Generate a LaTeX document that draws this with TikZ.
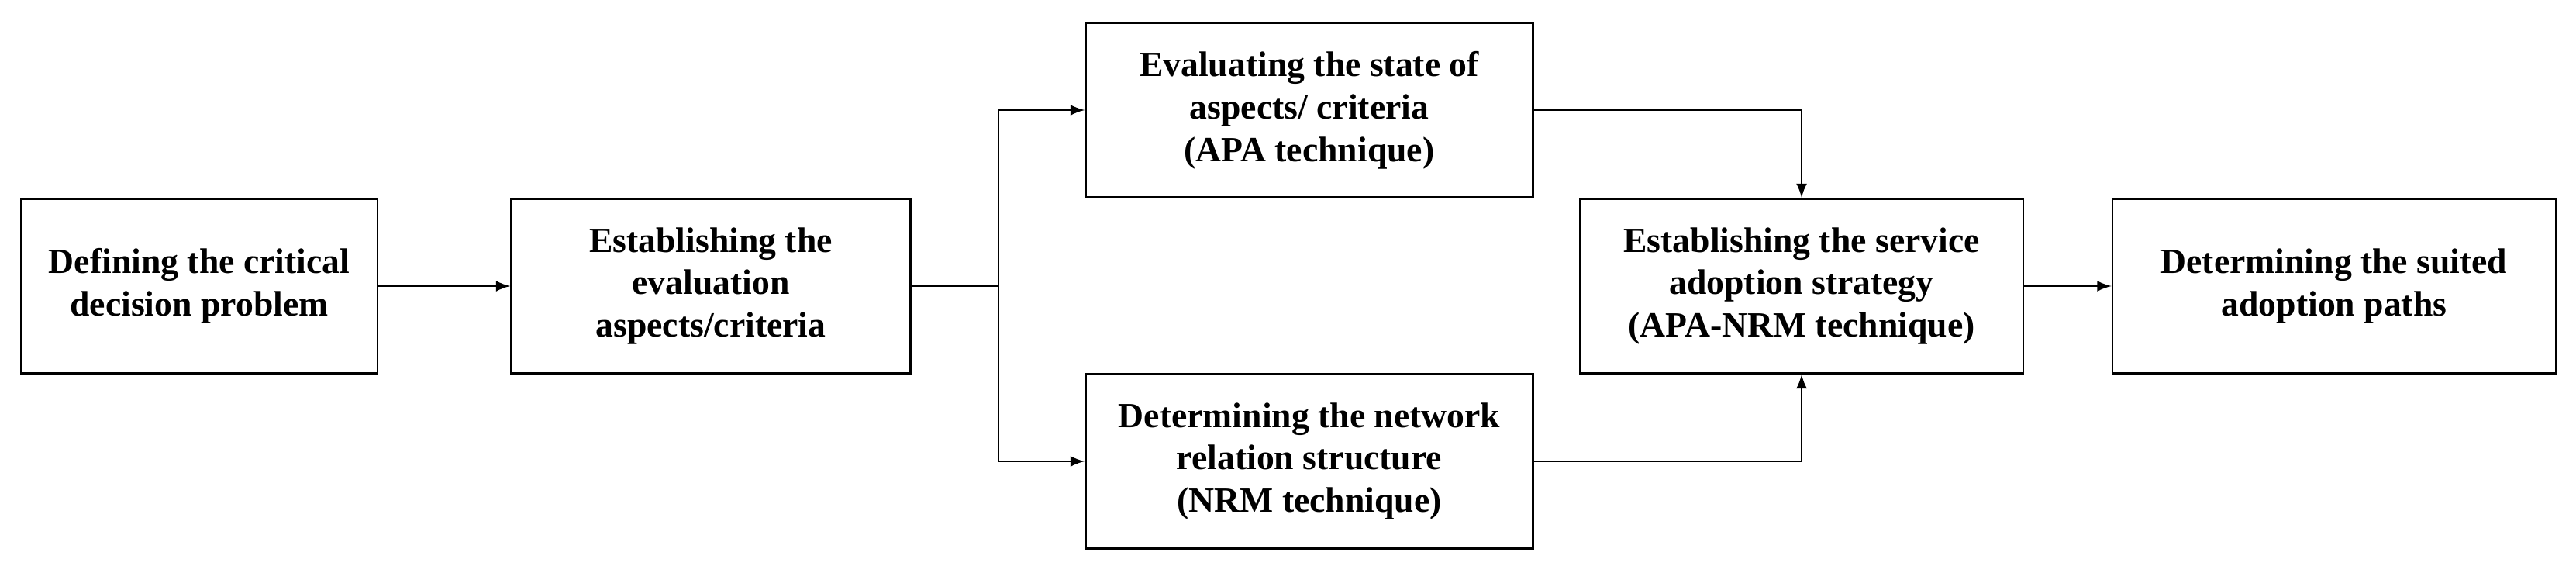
\documentclass[tikz,border=0pt]{standalone}
\usepackage{fontspec}
\setmainfont{Liberation Serif}
\usetikzlibrary{positioning}
\begin{document}
\begin{tikzpicture}[
    stage/.style={rectangle, draw, thick, minimum height=2.25cm, align=center, font=\fontsize{13}{15.6}\selectfont\bfseries},
    flow/.style={thick, -latex}
  ]
    \useasboundingbox (0,0) rectangle (33.23,7.38);
    % Stages
    \node[stage, minimum width=4.6cm] (define) at (2.57,3.69) {Defining the critical\\decision problem};
    \node[stage, minimum width=5.15cm] (aspects) at (9.17,3.69) {Establishing the\\evaluation\\aspects/criteria};
    \node[stage, minimum width=5.77cm] (apa) at (16.89,5.96) {Evaluating the state of\\aspects/ criteria\\(APA technique)};
    \node[stage, minimum width=5.77cm] (nrm) at (16.89,1.43) {Determining the network\\relation structure\\(NRM technique)};
    \node[stage, minimum width=5.72cm] (strategy) at (23.24,3.69) {Establishing the service\\adoption strategy\\(APA-NRM technique)};
    \node[stage, minimum width=5.72cm] (paths) at (30.11,3.69) {Determining the suited\\adoption paths};
    \coordinate (split) at (12.88,3.69);
    % Connectors
    \draw[flow] (define) -- (aspects);
    \draw[thick] (aspects) -- (split);
    \draw[flow] (split) |- (apa);
    \draw[flow] (split) |- (nrm);
    \draw[flow] (apa) -| (strategy);
    \draw[flow] (nrm) -| (strategy);
    \draw[flow] (strategy) -- (paths);
\end{tikzpicture}
\end{document}
